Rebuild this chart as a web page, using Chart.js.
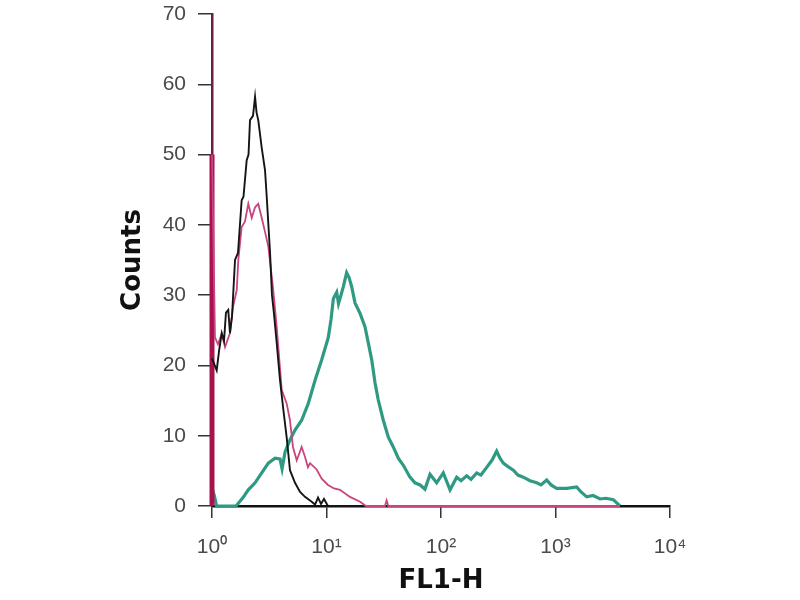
<!DOCTYPE html>
<html>
<head>
<meta charset="utf-8">
<script src="https://cdn.jsdelivr.net/npm/chart.js@4/dist/chart.umd.min.js"></script>
<style>
  html, body { margin: 0; padding: 0; background: #ffffff; }
  #wrap { width: 800px; height: 600px; position: relative; }
</style>
</head>
<body>
<div id="wrap"><canvas id="c" width="800" height="600"></canvas></div>
<script>
// ---- data (x = decade exponent of FL1-H, y = counts) ----
const xTickLabels = ['10\u2070', '10\u00B9', '10\u00B2', '10\u00B3', '10\u2074'];
const yTickValues = [0, 10, 20, 30, 40, 50, 60, 70];

const blackE = [0, 0.041, 0.061, 0.085, 0.105, 0.122, 0.142, 0.157, 0.175, 0.201, 0.227, 0.259, 0.275, 0.303, 0.319, 0.332, 0.358, 0.376, 0.389, 0.404, 0.434, 0.463, 0.478, 0.507, 0.524, 0.541, 0.565, 0.594, 0.623, 0.652, 0.681, 0.725, 0.769, 0.812, 0.871, 0.900, 0.926, 0.952, 0.978, 1.013, 1.30];
const blackC = [21, 19.3, 22, 24.6, 23.5, 27.5, 27.9, 24.6, 27, 35, 36, 43.5, 44, 49.2, 50, 54.9, 55.5, 58.2, 56, 54.9, 51, 47.8, 44, 36, 30, 27.4, 23.2, 17.9, 13.7, 9.8, 5.1, 3.3, 2.0, 1.3, 0.6, 0.2, 1.2, 0.3, 1.0, 0, 0];

const pinkE = [0, 0, 0.026, 0.052, 0.085, 0.114, 0.157, 0.183, 0.216, 0.230, 0.259, 0.288, 0.317, 0.347, 0.376, 0.404, 0.434, 0.463, 0.492, 0.535, 0.565, 0.609, 0.652, 0.681, 0.707, 0.740, 0.783, 0.812, 0.838, 0.856, 0.914, 0.958, 1.013, 1.066, 1.118, 1.205, 1.293, 1.345, 1.510, 1.525, 1.540, 3.563];
const pinkC = [0, 50, 24, 23, 24.5, 22.6, 24.6, 28.3, 30.7, 35, 39.7, 40.5, 43, 41, 42.5, 43, 41, 39, 36.9, 30.7, 25.5, 16.5, 14.6, 12.2, 8.4, 6.5, 8.4, 7, 5.5, 6.1, 5.2, 3.9, 3.0, 2.5, 2.3, 1.3, 0.6, 0, 0, 0.8, 0, 0];

const tealE = [0, 0.02, 0.04, 0.21, 0.271, 0.317, 0.376, 0.434, 0.492, 0.550, 0.594, 0.612, 0.638, 0.681, 0.725, 0.783, 0.841, 0.900, 0.958, 1.016, 1.039, 1.060, 1.089, 1.105, 1.118, 1.147, 1.176, 1.197, 1.220, 1.249, 1.293, 1.336, 1.365, 1.395, 1.424, 1.452, 1.496, 1.540, 1.583, 1.627, 1.671, 1.729, 1.773, 1.817, 1.860, 1.904, 1.962, 2.020, 2.079, 2.137, 2.175, 2.224, 2.262, 2.312, 2.349, 2.399, 2.445, 2.486, 2.515, 2.544, 2.585, 2.632, 2.672, 2.719, 2.777, 2.836, 2.873, 2.923, 2.961, 3.010, 3.098, 3.185, 3.223, 3.273, 3.328, 3.389, 3.441, 3.505, 3.563];
const tealC = [2.5, 1.5, 0, 0, 1.2, 2.3, 3.3, 4.7, 6.1, 6.8, 6.7, 5.3, 7.7, 9.4, 10.8, 12.2, 14.6, 17.9, 20.8, 24, 26.5, 29.5, 30.4, 28.8, 29.5, 31.2, 33.2, 32.5, 31.2, 28.9, 27.4, 25.5, 23.2, 20.8, 17.5, 15.1, 12.2, 9.8, 8.4, 6.8, 5.8, 4.1, 3.3, 3.0, 2.4, 4.5, 3.3, 4.7, 2.3, 4.1, 3.6, 4.3, 3.8, 4.7, 4.4, 5.5, 6.5, 7.8, 6.8, 6.1, 5.6, 5.1, 4.4, 4.1, 3.6, 3.3, 3.0, 3.7, 3.0, 2.5, 2.5, 2.7, 2.0, 1.3, 1.5, 1.0, 1.1, 0.9, 0];

const pts = (xs, ys) => xs.map((x, i) => ({ x: x, y: ys[i] }));

const tickFont = { family: "'Liberation Sans Narrow', 'Liberation Sans', Arial, sans-serif", size: 21 };
const titleFont = { family: "'DejaVu Sans', sans-serif", size: 26, weight: 'bold' };

new Chart(document.getElementById('c'), {
  type: 'line',
  data: {
    datasets: [
      {
        label: 'control (black)',
        data: pts(blackE, blackC),
        borderColor: '#151515',
        borderWidth: 1.9,
        pointRadius: 0,
        tension: 0,
        order: 0,
        clip: false
      },
      {
        label: 'isotype (pink)',
        data: pts(pinkE, pinkC),
        borderColor: '#c8457f',
        borderWidth: 1.8,
        pointRadius: 0,
        tension: 0,
        order: 1,
        clip: false,
        segment: {
          borderWidth: ctx => ctx.p0DataIndex === 0 ? 5 : 1.8,
          borderColor: ctx => ctx.p0DataIndex === 0 ? '#a8124f' : '#c8457f'
        }
      },
      {
        label: 'stained (teal)',
        data: pts(tealE, tealC),
        borderColor: '#2f9a84',
        borderWidth: 3.2,
        pointRadius: 0,
        tension: 0,
        order: 2,
        clip: false
      }
    ]
  },
  options: {
    responsive: false,
    animation: false,
    events: [],
    layout: { padding: { top: 14, right: 130, bottom: 0, left: 0 } },
    plugins: { legend: { display: false }, tooltip: { enabled: false } },
    scales: {
      x: {
        type: 'linear',
        min: 0,
        max: 4,
        afterFit: s => { s.height = 94; s.paddingLeft = 0; s.paddingRight = 0; },
        afterBuildTicks: s => { s.ticks = xTickLabels.map((_, i) => ({ value: i })); },
        border: { display: true, color: '#111', width: 2.5 },
        grid: { drawOnChartArea: false, drawTicks: true, tickLength: 12, color: '#333', lineWidth: 1.5 },
        ticks: {
          color: '#4a4a4a',
          font: tickFont,
          padding: 17,
          maxRotation: 0,
          autoSkip: false,
          callback: v => xTickLabels[Math.round(v)]
        },
        title: { display: true, text: 'FL1-H', color: '#111', font: titleFont, padding: { top: 0, bottom: 3 } }
      },
      y: {
        type: 'linear',
        min: 0,
        max: 70,
        afterFit: s => { s.width = 212; s.paddingTop = 0; s.paddingBottom = 0; },
        afterBuildTicks: s => { s.ticks = yTickValues.map(v => ({ value: v })); },
        border: { display: true, color: '#6b1d45', width: 2.5 },
        grid: { drawOnChartArea: false, drawTicks: true, tickLength: 14, color: '#333', lineWidth: 1.5 },
        ticks: { color: '#4a4a4a', font: tickFont, padding: 12 },
        title: { display: true, text: 'Counts', color: '#111', font: titleFont, padding: { top: 118, bottom: 0 } }
      }
    }
  }
});
</script>
</body>
</html>
